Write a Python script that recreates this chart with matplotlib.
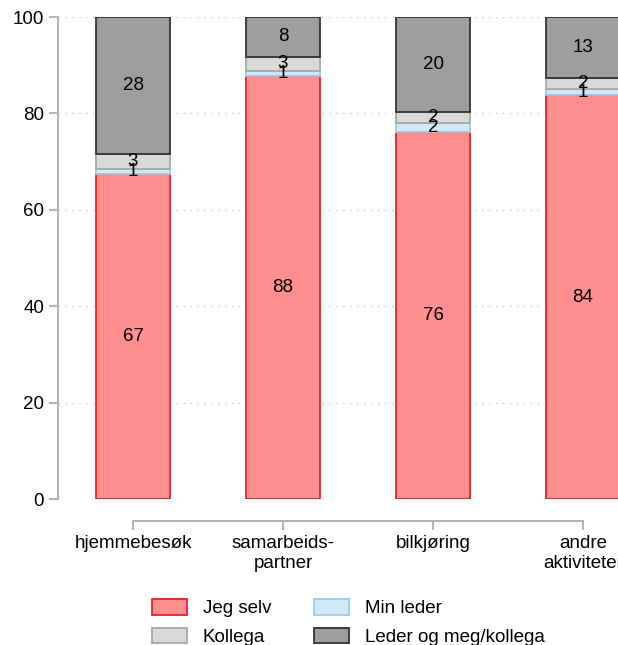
import matplotlib
matplotlib.use("Agg")
import matplotlib.pyplot as plt
import numpy as np

plt.rcParams['font.family'] = ['Liberation Sans', 'DejaVu Sans']

categories = ["hjemmebesøk", "samarbeids-\npartner", "bilkjøring", "andre\naktiviteter"]
jeg_selv = [67.4, 87.8, 76.2, 83.8]
min_leder = [1.1, 1.0, 1.9, 1.2]
kollega = [3.1, 3.0, 2.2, 2.3]
leder_og_meg = [28.4, 8.2, 19.7, 12.7]

series = [
    ("Jeg selv", jeg_selv, "#ff8f8f", "#e3242b"),
    ("Min leder", min_leder, "#d2e8f7", "#9ccbec"),
    ("Kollega", kollega, "#d9d9d9", "#a8a8a8"),
    ("Leder og meg/kollega", leder_og_meg, "#9e9e9e", "#333333"),
]

fig = plt.figure(figsize=(6.18, 6.45), dpi=100)
ax = fig.add_axes([58 / 618, 1 - 499 / 645, 600 / 618, 482 / 645])

x = np.arange(len(categories))
bottom = np.zeros(len(categories))
handles = {}
for name, vals, fc, ec in series:
    vals = np.array(vals)
    b = ax.bar(x, vals, 0.49, bottom=bottom, color=fc, edgecolor=ec,
               linewidth=1.3, zorder=2, label=name)
    handles[name] = b
    for xi, v, bt in zip(x, vals, bottom):
        ax.text(xi, bt + v / 2, f"{v:.0f}", ha="center", va="center",
                fontsize=13.5, color="black", zorder=5)
    bottom += vals

ax.set_xlim(-0.5, 3.5)
ax.set_ylim(0, 100)
ax.set_yticks([0, 20, 40, 60, 80, 100])
ax.set_xticks(x)
ax.set_xticklabels(categories)
ax.yaxis.grid(True, linestyle=(0, (1, 4)), color="#c8c8c8", linewidth=1, zorder=0)
ax.set_axisbelow(True)

for s in ["top", "right"]:
    ax.spines[s].set_visible(False)
ax.spines["left"].set_color("#b4b4b4")
ax.spines["left"].set_linewidth(1.5)
ax.spines["bottom"].set_color("#b4b4b4")
ax.spines["bottom"].set_linewidth(1.5)
ax.spines["bottom"].set_position(("outward", 16))
ax.spines["bottom"].set_bounds(0, 3)
ax.tick_params(axis="both", colors="#b4b4b4", labelcolor="black",
               labelsize=13.5, length=6.5, width=1.5, pad=3.5)

order = ["Jeg selv", "Kollega", "Min leder", "Leder og meg/kollega"]
fig.legend([handles[n] for n in order], order, ncol=2, frameon=False,
           loc="upper left", bbox_to_anchor=(152 / 618, 1 - 599 / 645),
           fontsize=13.5, handlelength=1.85, handleheight=0.9,
           handletextpad=0.85, columnspacing=2.3, labelspacing=0.55,
           borderpad=0, borderaxespad=0)

fig.savefig("out.png", dpi=100)
